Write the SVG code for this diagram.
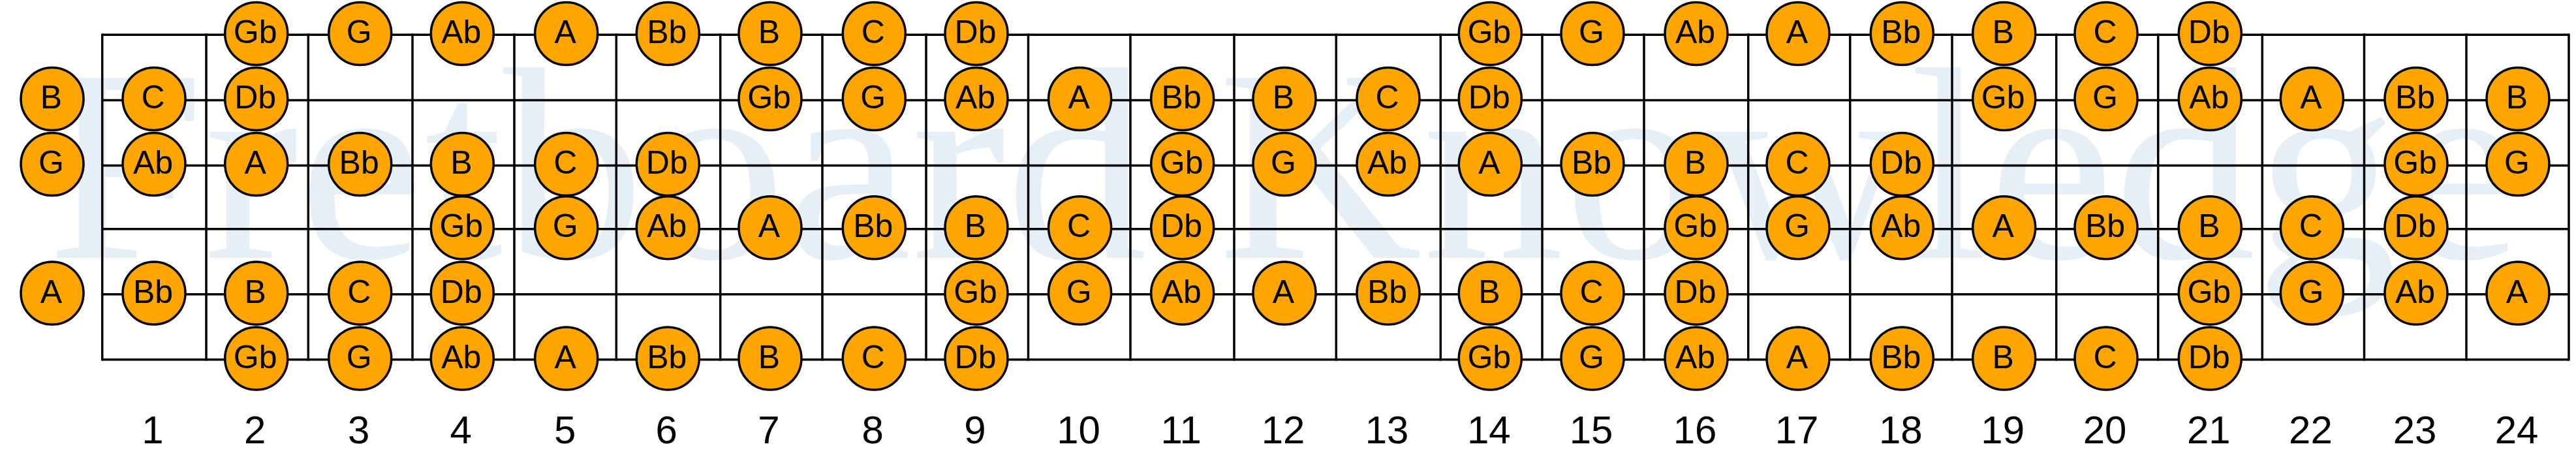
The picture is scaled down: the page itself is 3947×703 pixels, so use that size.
<svg xmlns="http://www.w3.org/2000/svg" width="3947" height="703" viewBox="0 0 3947 703">
<style>
.wm{font-family:"Liberation Serif","Times New Roman",serif;font-size:421px;fill:#e6eff6;font-kerning:none}
.s{stroke:#000;stroke-width:3.5;fill:none}
.n circle{fill:#ffa500;stroke:#000;stroke-width:3.5}
.n text{font-family:"Liberation Sans",Arial,sans-serif;font-size:50px;fill:#000;text-anchor:middle}
.f{font-family:"Liberation Sans",Arial,sans-serif;font-size:60px;fill:#000;text-anchor:middle}
</style>
<rect width="3947" height="703" fill="#fff"/>
<text class="wm" transform="translate(72 395) scale(1.03 1)">Fretboard Knowledge</text>
<g id="connectors" class="s">
<path d="M156.7 53.3H3936M156.7 153.5H3936M156.7 253.5H3936M156.7 350.7H3936M156.7 450.7H3936M156.7 550.7H3936"/>
<path d="M156.7 51.5V552.5M316 51.5V552.5M472.3 51.5V552.5M632 51.5V552.5M788 51.5V552.5M944.3 51.5V552.5M1103.7 51.5V552.5M1260 51.5V552.5M1419 51.5V552.5M1575.5 51.5V552.5M1732 51.5V552.5M1891 51.5V552.5M2047.3 51.5V552.5M2207.3 51.5V552.5M2363 51.5V552.5M2519 51.5V552.5M2678.7 51.5V552.5M2834.7 51.5V552.5M2991 51.5V552.5M3150.7 51.5V552.5M3306.7 51.5V552.5M3466.3 51.5V552.5M3622.5 51.5V552.5M3779 51.5V552.5M3936 51.5V552.5"/>
</g>
<g id="open" class="n">
<g id="c0r2" transform="translate(80 151.5)"><circle r="48"/><text x="-1.5" y="14.5">B</text></g>
<g id="c0r3" transform="translate(80 251.5)"><circle r="48"/><text x="-1.5" y="14.5">G</text></g>
<g id="c0r5" transform="translate(80 449)"><circle r="48"/><text x="-1.5" y="14.5">A</text></g>
</g>
<g id="frets" class="n">
<g id="c1r2" transform="translate(236 151.5)"><circle r="48"/><text x="-1.5" y="14.5">C</text></g>
<g id="c1r3" transform="translate(236 251.5)"><circle r="48"/><text x="-1.5" y="14.5">Ab</text></g>
<g id="c1r5" transform="translate(236 449)"><circle r="48"/><text x="-1.5" y="14.5">Bb</text></g>
<g id="c2r1" transform="translate(392.7 51.5)"><circle r="48"/><text x="-1.5" y="14.5">Gb</text></g>
<g id="c2r2" transform="translate(392.7 151.5)"><circle r="48"/><text x="-1.5" y="14.5">Db</text></g>
<g id="c2r3" transform="translate(392.7 251.5)"><circle r="48"/><text x="-1.5" y="14.5">A</text></g>
<g id="c2r5" transform="translate(392.7 449)"><circle r="48"/><text x="-1.5" y="14.5">B</text></g>
<g id="c2r6" transform="translate(392.7 549)"><circle r="48"/><text x="-1.5" y="14.5">Gb</text></g>
<g id="c3r1" transform="translate(551.7 51.5)"><circle r="48"/><text x="-1.5" y="14.5">G</text></g>
<g id="c3r3" transform="translate(551.7 251.5)"><circle r="48"/><text x="-1.5" y="14.5">Bb</text></g>
<g id="c3r5" transform="translate(551.7 449)"><circle r="48"/><text x="-1.5" y="14.5">C</text></g>
<g id="c3r6" transform="translate(551.7 549)"><circle r="48"/><text x="-1.5" y="14.5">G</text></g>
<g id="c4r1" transform="translate(708.3 51.5)"><circle r="48"/><text x="-1.5" y="14.5">Ab</text></g>
<g id="c4r3" transform="translate(708.3 251.5)"><circle r="48"/><text x="-1.5" y="14.5">B</text></g>
<g id="c4r4" transform="translate(708.3 348.7)"><circle r="48"/><text x="-1.5" y="14.5">Gb</text></g>
<g id="c4r5" transform="translate(708.3 449)"><circle r="48"/><text x="-1.5" y="14.5">Db</text></g>
<g id="c4r6" transform="translate(708.3 549)"><circle r="48"/><text x="-1.5" y="14.5">Ab</text></g>
<g id="c5r1" transform="translate(867.7 51.5)"><circle r="48"/><text x="-1.5" y="14.5">A</text></g>
<g id="c5r3" transform="translate(867.7 251.5)"><circle r="48"/><text x="-1.5" y="14.5">C</text></g>
<g id="c5r4" transform="translate(867.7 348.7)"><circle r="48"/><text x="-1.5" y="14.5">G</text></g>
<g id="c5r6" transform="translate(867.7 549)"><circle r="48"/><text x="-1.5" y="14.5">A</text></g>
<g id="c6r1" transform="translate(1023.3 51.5)"><circle r="48"/><text x="-1.5" y="14.5">Bb</text></g>
<g id="c6r3" transform="translate(1023.3 251.5)"><circle r="48"/><text x="-1.5" y="14.5">Db</text></g>
<g id="c6r4" transform="translate(1023.3 348.7)"><circle r="48"/><text x="-1.5" y="14.5">Ab</text></g>
<g id="c6r6" transform="translate(1023.3 549)"><circle r="48"/><text x="-1.5" y="14.5">Bb</text></g>
<g id="c7r1" transform="translate(1180 51.5)"><circle r="48"/><text x="-1.5" y="14.5">B</text></g>
<g id="c7r2" transform="translate(1180 151.5)"><circle r="48"/><text x="-1.5" y="14.5">Gb</text></g>
<g id="c7r4" transform="translate(1180 348.7)"><circle r="48"/><text x="-1.5" y="14.5">A</text></g>
<g id="c7r6" transform="translate(1180 549)"><circle r="48"/><text x="-1.5" y="14.5">B</text></g>
<g id="c8r1" transform="translate(1339.3 51.5)"><circle r="48"/><text x="-1.5" y="14.5">C</text></g>
<g id="c8r2" transform="translate(1339.3 151.5)"><circle r="48"/><text x="-1.5" y="14.5">G</text></g>
<g id="c8r4" transform="translate(1339.3 348.7)"><circle r="48"/><text x="-1.5" y="14.5">Bb</text></g>
<g id="c8r6" transform="translate(1339.3 549)"><circle r="48"/><text x="-1.5" y="14.5">C</text></g>
<g id="c9r1" transform="translate(1496 51.5)"><circle r="48"/><text x="-1.5" y="14.5">Db</text></g>
<g id="c9r2" transform="translate(1496 151.5)"><circle r="48"/><text x="-1.5" y="14.5">Ab</text></g>
<g id="c9r4" transform="translate(1496 348.7)"><circle r="48"/><text x="-1.5" y="14.5">B</text></g>
<g id="c9r5" transform="translate(1496 449)"><circle r="48"/><text x="-1.5" y="14.5">Gb</text></g>
<g id="c9r6" transform="translate(1496 549)"><circle r="48"/><text x="-1.5" y="14.5">Db</text></g>
<g id="c10r2" transform="translate(1654.6 151.5)"><circle r="48"/><text x="-1.5" y="14.5">A</text></g>
<g id="c10r4" transform="translate(1654.6 348.7)"><circle r="48"/><text x="-1.5" y="14.5">C</text></g>
<g id="c10r5" transform="translate(1654.6 449)"><circle r="48"/><text x="-1.5" y="14.5">G</text></g>
<g id="c11r2" transform="translate(1811.7 151.5)"><circle r="48"/><text x="-1.5" y="14.5">Bb</text></g>
<g id="c11r3" transform="translate(1811.7 251.5)"><circle r="48"/><text x="-1.5" y="14.5">Gb</text></g>
<g id="c11r4" transform="translate(1811.7 348.7)"><circle r="48"/><text x="-1.5" y="14.5">Db</text></g>
<g id="c11r5" transform="translate(1811.7 449)"><circle r="48"/><text x="-1.5" y="14.5">Ab</text></g>
<g id="c12r2" transform="translate(1968 151.5)"><circle r="48"/><text x="-1.5" y="14.5">B</text></g>
<g id="c12r3" transform="translate(1968 251.5)"><circle r="48"/><text x="-1.5" y="14.5">G</text></g>
<g id="c12r5" transform="translate(1968 449)"><circle r="48"/><text x="-1.5" y="14.5">A</text></g>
<g id="c13r2" transform="translate(2127 151.5)"><circle r="48"/><text x="-1.5" y="14.5">C</text></g>
<g id="c13r3" transform="translate(2127 251.5)"><circle r="48"/><text x="-1.5" y="14.5">Ab</text></g>
<g id="c13r5" transform="translate(2127 449)"><circle r="48"/><text x="-1.5" y="14.5">Bb</text></g>
<g id="c14r1" transform="translate(2283.3 51.5)"><circle r="48"/><text x="-1.5" y="14.5">Gb</text></g>
<g id="c14r2" transform="translate(2283.3 151.5)"><circle r="48"/><text x="-1.5" y="14.5">Db</text></g>
<g id="c14r3" transform="translate(2283.3 251.5)"><circle r="48"/><text x="-1.5" y="14.5">A</text></g>
<g id="c14r5" transform="translate(2283.3 449)"><circle r="48"/><text x="-1.5" y="14.5">B</text></g>
<g id="c14r6" transform="translate(2283.3 549)"><circle r="48"/><text x="-1.5" y="14.5">Gb</text></g>
<g id="c15r1" transform="translate(2440 51.5)"><circle r="48"/><text x="-1.5" y="14.5">G</text></g>
<g id="c15r3" transform="translate(2440 251.5)"><circle r="48"/><text x="-1.5" y="14.5">Bb</text></g>
<g id="c15r5" transform="translate(2440 449)"><circle r="48"/><text x="-1.5" y="14.5">C</text></g>
<g id="c15r6" transform="translate(2440 549)"><circle r="48"/><text x="-1.5" y="14.5">G</text></g>
<g id="c16r1" transform="translate(2599 51.5)"><circle r="48"/><text x="-1.5" y="14.5">Ab</text></g>
<g id="c16r3" transform="translate(2599 251.5)"><circle r="48"/><text x="-1.5" y="14.5">B</text></g>
<g id="c16r4" transform="translate(2599 348.7)"><circle r="48"/><text x="-1.5" y="14.5">Gb</text></g>
<g id="c16r5" transform="translate(2599 449)"><circle r="48"/><text x="-1.5" y="14.5">Db</text></g>
<g id="c16r6" transform="translate(2599 549)"><circle r="48"/><text x="-1.5" y="14.5">Ab</text></g>
<g id="c17r1" transform="translate(2755 51.5)"><circle r="48"/><text x="-1.5" y="14.5">A</text></g>
<g id="c17r3" transform="translate(2755 251.5)"><circle r="48"/><text x="-1.5" y="14.5">C</text></g>
<g id="c17r4" transform="translate(2755 348.7)"><circle r="48"/><text x="-1.5" y="14.5">G</text></g>
<g id="c17r6" transform="translate(2755 549)"><circle r="48"/><text x="-1.5" y="14.5">A</text></g>
<g id="c18r1" transform="translate(2914.3 51.5)"><circle r="48"/><text x="-1.5" y="14.5">Bb</text></g>
<g id="c18r3" transform="translate(2914.3 251.5)"><circle r="48"/><text x="-1.5" y="14.5">Db</text></g>
<g id="c18r4" transform="translate(2914.3 348.7)"><circle r="48"/><text x="-1.5" y="14.5">Ab</text></g>
<g id="c18r6" transform="translate(2914.3 549)"><circle r="48"/><text x="-1.5" y="14.5">Bb</text></g>
<g id="c19r1" transform="translate(3070.7 51.5)"><circle r="48"/><text x="-1.5" y="14.5">B</text></g>
<g id="c19r2" transform="translate(3070.7 151.5)"><circle r="48"/><text x="-1.5" y="14.5">Gb</text></g>
<g id="c19r4" transform="translate(3070.7 348.7)"><circle r="48"/><text x="-1.5" y="14.5">A</text></g>
<g id="c19r6" transform="translate(3070.7 549)"><circle r="48"/><text x="-1.5" y="14.5">B</text></g>
<g id="c20r1" transform="translate(3227 51.5)"><circle r="48"/><text x="-1.5" y="14.5">C</text></g>
<g id="c20r2" transform="translate(3227 151.5)"><circle r="48"/><text x="-1.5" y="14.5">G</text></g>
<g id="c20r4" transform="translate(3227 348.7)"><circle r="48"/><text x="-1.5" y="14.5">Bb</text></g>
<g id="c20r6" transform="translate(3227 549)"><circle r="48"/><text x="-1.5" y="14.5">C</text></g>
<g id="c21r1" transform="translate(3386.3 51.5)"><circle r="48"/><text x="-1.5" y="14.5">Db</text></g>
<g id="c21r2" transform="translate(3386.3 151.5)"><circle r="48"/><text x="-1.5" y="14.5">Ab</text></g>
<g id="c21r4" transform="translate(3386.3 348.7)"><circle r="48"/><text x="-1.5" y="14.5">B</text></g>
<g id="c21r5" transform="translate(3386.3 449)"><circle r="48"/><text x="-1.5" y="14.5">Gb</text></g>
<g id="c21r6" transform="translate(3386.3 549)"><circle r="48"/><text x="-1.5" y="14.5">Db</text></g>
<g id="c22r2" transform="translate(3542.4 151.5)"><circle r="48"/><text x="-1.5" y="14.5">A</text></g>
<g id="c22r4" transform="translate(3542.4 348.7)"><circle r="48"/><text x="-1.5" y="14.5">C</text></g>
<g id="c22r5" transform="translate(3542.4 449)"><circle r="48"/><text x="-1.5" y="14.5">G</text></g>
<g id="c23r2" transform="translate(3702 151.5)"><circle r="48"/><text x="-1.5" y="14.5">Bb</text></g>
<g id="c23r3" transform="translate(3702 251.5)"><circle r="48"/><text x="-1.5" y="14.5">Gb</text></g>
<g id="c23r4" transform="translate(3702 348.7)"><circle r="48"/><text x="-1.5" y="14.5">Db</text></g>
<g id="c23r5" transform="translate(3702 449)"><circle r="48"/><text x="-1.5" y="14.5">Ab</text></g>
<g id="c24r2" transform="translate(3858 151.5)"><circle r="48"/><text x="-1.5" y="14.5">B</text></g>
<g id="c24r3" transform="translate(3858 251.5)"><circle r="48"/><text x="-1.5" y="14.5">G</text></g>
<g id="c24r5" transform="translate(3858 449)"><circle r="48"/><text x="-1.5" y="14.5">A</text></g>
</g>
<g id="fret-numbers" class="f">
<text x="234" y="679">1</text><text x="390.7" y="679">2</text><text x="549.7" y="679">3</text><text x="706.3" y="679">4</text><text x="865.7" y="679">5</text><text x="1021.3" y="679">6</text><text x="1178" y="679">7</text><text x="1337.3" y="679">8</text><text x="1494" y="679">9</text><text x="1652.6" y="679">10</text><text x="1809.7" y="679">11</text><text x="1966" y="679">12</text><text x="2125" y="679">13</text><text x="2281.3" y="679">14</text><text x="2438" y="679">15</text><text x="2597" y="679">16</text><text x="2753" y="679">17</text><text x="2912.3" y="679">18</text><text x="3068.7" y="679">19</text><text x="3225" y="679">20</text><text x="3384.3" y="679">21</text><text x="3540.4" y="679">22</text><text x="3700" y="679">23</text><text x="3856" y="679">24</text>
</g>
</svg>
